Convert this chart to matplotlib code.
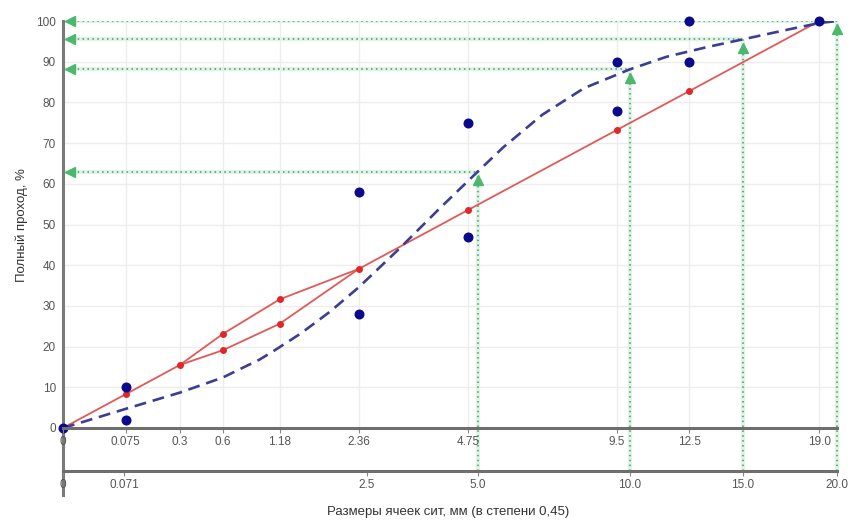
import numpy as np
import matplotlib
matplotlib.use("Agg")
import matplotlib.pyplot as plt
import matplotlib.transforms as mtransforms

plt.rcParams['font.family'] = ['Liberation Sans', 'DejaVu Sans']

# ---------------- data ----------------
top_ticks = [0, 0.075, 0.3, 0.6, 1.18, 2.36, 4.75, 9.5, 12.5, 19.0]
top_labels = ["0", "0.075", "0.3", "0.6", "1.18", "2.36", "4.75", "9.5", "12.5", "19.0"]
bottom_ticks = [0, 0.071, 2.5, 5.0, 10.0, 15.0, 20.0]
bottom_labels = ["0", "0.071", "2.5", "5.0", "10.0", "15.0", "20.0"]
y_ticks = list(range(0, 101, 10))

# control points (blue)
ctrl_x = [0, 0.075, 0.075, 2.36, 2.36, 4.75, 4.75, 9.5, 9.5, 12.5, 12.5, 19.0]
ctrl_y = [0, 10, 2, 58, 28, 75, 47, 90, 78, 100, 90, 100]

# maximum density line (red) and restricted zone
md_low_x = [0, 0.075, 0.3]
md_low_y = [0, 8.3, 15.5]
md_high_x = [2.36, 4.75, 9.5, 12.5, 19.0]
md_high_y = [39.1, 53.6, 73.2, 82.8, 100]
rz_x = [0.3, 0.6, 1.18, 2.36]
rz_upper = [15.5, 23.1, 31.6, 39.1]
rz_lower = [15.5, 19.1, 25.6, 39.1]

# mix gradation curve (blue dashed)
mix_x = [0, 0.075, 0.3, 0.6, 0.95, 1.1, 1.45, 1.88, 2.36, 3.15, 4.05, 5.0,
         5.7, 6.9, 8.3, 10.0, 11.5, 13.3, 15.0, 17.4, 19.0, 20.0]
mix_y = [0, 4.7, 8.7, 12.4, 16.8, 18.8, 23.2, 28.6, 34.6, 44.2, 54.1, 63.0,
         68.9, 77.0, 83.5, 88.1, 91.2, 93.6, 95.5, 98.0, 99.5, 100]

# read-off guides (green)
guide_x = [5.0, 10.0, 15.0, 20.0]
guide_y = [63.0, 88.1, 95.5, 100.0]

# ---------------- layout ----------------
W, H = 854, 526
fig = plt.figure(figsize=(W / 100, H / 100), dpi=100)

x0_px, x1_px = 63, 837
ytop_px, ybot_px = 21, 495
y0_px = 428          # pixel of y = 0
yb_px = 471          # pixel of the lower axis line
ppu = (y0_px - ytop_px) / 100.0
ymin = -(ybot_px - y0_px) / ppu
yb_val = -(yb_px - y0_px) / ppu


def fwd(x):
    return np.power(np.clip(x, 0, None), 0.45)


def inv(y):
    return np.power(np.clip(y, 0, None), 1 / 0.45)


ax = fig.add_axes([x0_px / W, (H - ybot_px) / H, (x1_px - x0_px) / W, (ybot_px - ytop_px) / H])
ax.set_xscale('function', functions=(fwd, inv))
ax.set_xlim(0, 20)
ax.set_ylim(ymin, 100)
ax.patch.set_alpha(0)
for s in ['top', 'right', 'bottom']:
    ax.spines[s].set_visible(False)
ax.spines['left'].set_color('#7a7a7a')
ax.spines['left'].set_linewidth(2.2)
ax.set_xticks([])
ax.set_yticks(y_ticks)
ax.set_yticklabels([str(v) for v in y_ticks])
ax.tick_params(axis='y', length=0, pad=5, labelsize=8.5, labelcolor='#555555')

# grid
ax.hlines(y_ticks[1:], 0, 20, colors='#ededed', linewidth=1.0, zorder=0)
ax.vlines(top_ticks[1:], 0, 100, colors='#ededed', linewidth=1.0, zorder=0)

# green guides
off_up = mtransforms.offset_copy(ax.transData, fig=fig, x=0, y=-6, units='points')
off_right = mtransforms.offset_copy(ax.transData, fig=fig, x=5, y=0, units='points')
for gx, gy in zip(guide_x, guide_y):
    ax.plot([gx, gx], [yb_val, gy], color='#dcf5e6', lw=3.0, zorder=1, clip_on=False,
            solid_capstyle='butt')
    ax.plot([gx, gx], [yb_val, gy], color='#5a8f6c', lw=1.1, ls=(0, (1, 2.2)), zorder=1.1,
            clip_on=False)
    ax.plot([0, gx], [gy, gy], color='#dcf5e6', lw=3.0, zorder=1, solid_capstyle='butt')
    ax.plot([0, gx], [gy, gy], color='#5a8f6c', lw=1.1, ls=(0, (1, 2.2)), zorder=1.1)
    ax.plot([gx], [gy], marker='^', ms=7, color='#4cb86e', mec='#4cb86e', transform=off_up,
            zorder=5, clip_on=False)
    ax.plot([0], [gy], marker='<', ms=7, color='#4cb86e', mec='#4cb86e', transform=off_right,
            zorder=5, clip_on=False)

# red maximum density line + restricted zone
red = '#e05a5a'
ax.plot(md_low_x, md_low_y, color=red, lw=1.3, zorder=3)
ax.plot(md_high_x, md_high_y, color=red, lw=1.3, zorder=3)
ax.plot(rz_x, rz_upper, color=red, lw=1.3, zorder=3)
ax.plot(rz_x, rz_lower, color=red, lw=1.3, zorder=3)
ax.plot(md_low_x + md_high_x, md_low_y + md_high_y, ls='none', marker='o', ms=4,
        color='#e02828', zorder=4)
ax.plot(rz_x[1:3] + rz_x[1:3], rz_upper[1:3] + rz_lower[1:3], ls='none', marker='o', ms=4,
        color='#e02828', zorder=4)

# mix curve
ax.plot(mix_x, mix_y, color='#3d3d92', lw=1.9, dashes=(4.5, 2.6), zorder=4)

# control points
ax.plot(ctrl_x, ctrl_y, ls='none', marker='o', ms=6.2, color='#0a0a8c', zorder=6, clip_on=False)


def make_xaxis(ypix, ticks, labels):
    a = fig.add_axes([x0_px / W, (H - ypix) / H, (x1_px - x0_px) / W, 1e-4])
    a.set_xscale('function', functions=(fwd, inv))
    a.set_xlim(0, 20)
    a.set_ylim(0, 1)
    a.patch.set_alpha(0)
    for s in ['top', 'right', 'left']:
        a.spines[s].set_visible(False)
    a.spines['bottom'].set_color('#6e6e6e')
    a.spines['bottom'].set_linewidth(2.2)
    a.set_yticks([])
    a.set_xticks(ticks)
    a.set_xticklabels(labels)
    a.minorticks_off()
    a.tick_params(axis='x', length=3.5, width=0.8, color='#888888', pad=2,
                  labelsize=8.5, labelcolor='#555555')
    return a


make_xaxis(y0_px, top_ticks, top_labels)
make_xaxis(yb_px, bottom_ticks, bottom_labels)

fig.text(448 / W, 1 - 512 / H, "Размеры ячеек сит, мм (в степени 0,45)", ha='center', va='center',
         fontsize=9.5, color='#333333')
fig.text(22 / W, 1 - 225 / H, "Полный проход, %", ha='center', va='center', rotation=90,
         fontsize=9.5, color='#333333')

fig.savefig('out.png', dpi=100)
